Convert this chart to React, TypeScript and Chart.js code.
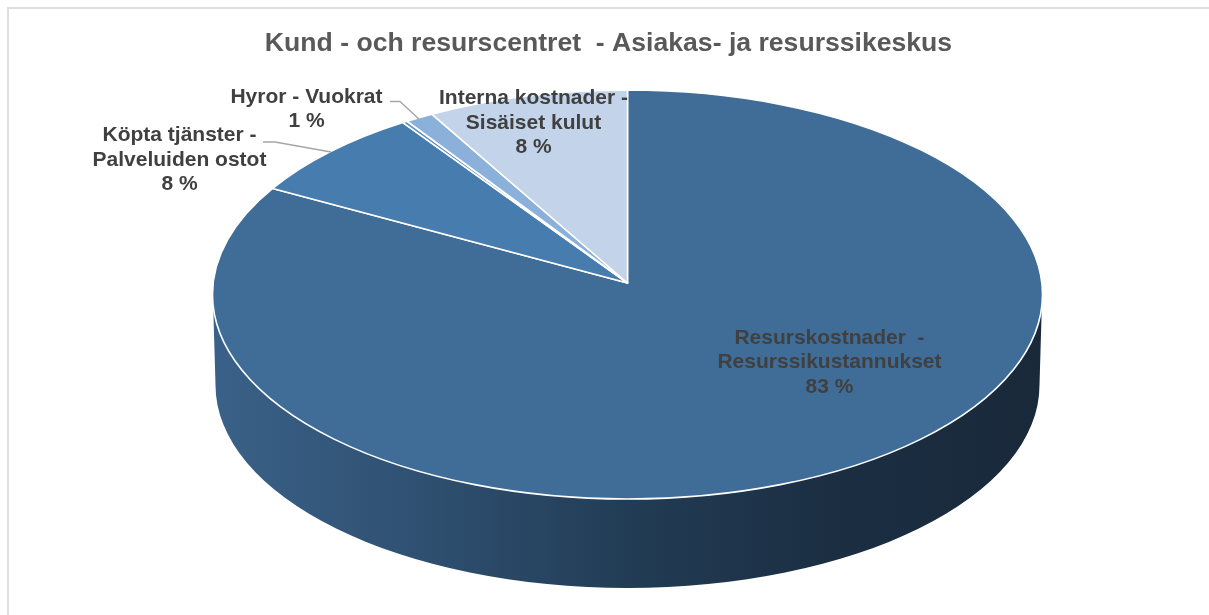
import { useEffect, useRef } from "react";
import { Chart, registerables } from "chart.js";

Chart.register(...registerables);

const titleText = "Kund - och resurscentret  - Asiakas- ja resurssikeskus";
const categories = [
  "Resurskostnader  - Resurssikustannukset",
  "Köpta tjänster - Palveluiden ostot",
  "Övrigt",
  "Hyror - Vuokrat",
  "Interna kostnader - Sisäiset kulut",
];
const shares = [82.9, 7.5, 0.2, 1.15, 8.25];
const sliceColors = ["#3f6d97", "#477cae", "#5f8fc4", "#8bb0da", "#c3d3e9"];
const labelLines = [
  ["Resurskostnader  -", "Resurssikustannukset", "83 %"],
  ["Köpta tjänster -", "Palveluiden ostot", "8 %"],
  [],
  ["Hyror - Vuokrat", "1 %"],
  ["Interna kostnader -", "Sisäiset kulut", "8 %"],
];

// Projection of the flat pie into the tilted view
const APEX_X = 627.5;
const APEX_Y = 283;
const PROJ_A = 414.4;
const PROJ_B = 203.9;
const PROJ_K = -0.0562;
const TOP_CY = 294.5;
const TOP_RX = 415;
const TOP_RY = 204.5;
const BOT_CY = 385;
const BOT_RX = 412;
const BOT_RY = 203;

// Chart.js angle (0 = east, clockwise positive) -> ellipse parameter on the top face
function rimParam(angle: number) {
  const x = Math.cos(angle);
  const v = Math.sin(angle);
  const w = 1 + PROJ_K * v;
  const px = APEX_X + (PROJ_A * x) / w;
  const py = APEX_Y + (PROJ_B * v) / w;
  return Math.atan2((py - TOP_CY) / TOP_RY, (px - APEX_X) / TOP_RX);
}

const labelPlacement = [
  { x: 829.5, y: 338, color: "#404040" },
  { x: 179.5, y: 135.5, color: "#404040" },
  null,
  { x: 306.5, y: 97, color: "#404040" },
  { x: 533.5, y: 98.5, color: "#404040" },
];
const LINE_H = 24.5;

const tiltedPie = {
  id: "tiltedPie",
  beforeDatasetsDraw(chart: any) {
    const { ctx } = chart;
    const arcs = chart.getDatasetMeta(0).data;

    ctx.save();
    // outer frame
    ctx.strokeStyle = "#dedede";
    ctx.lineWidth = 2;
    ctx.beginPath();
    ctx.moveTo(8, 615);
    ctx.lineTo(8, 8);
    ctx.lineTo(1209, 8);
    ctx.stroke();

    // side wall
    const grad = ctx.createLinearGradient(213, 0, 1042, 0);
    grad.addColorStop(0, "#3a6188");
    grad.addColorStop(0.25, "#2f5071");
    grad.addColorStop(0.5, "#223c55");
    grad.addColorStop(0.75, "#1b2e42");
    grad.addColorStop(1, "#19293a");
    ctx.fillStyle = grad;
    ctx.beginPath();
    ctx.moveTo(213, 300);
    ctx.lineTo(215.5, BOT_CY);
    ctx.ellipse(APEX_X, BOT_CY, BOT_RX, BOT_RY, 0, Math.PI, 0, true);
    ctx.lineTo(1042, 300);
    ctx.closePath();
    ctx.fill();

    // top face slices
    arcs.forEach((arc: any, i: number) => {
      const a0 = rimParam(arc.startAngle);
      const a1 = rimParam(arc.endAngle);
      ctx.beginPath();
      ctx.moveTo(APEX_X, APEX_Y);
      ctx.ellipse(APEX_X, TOP_CY, TOP_RX, TOP_RY, 0, a0, a1, false);
      ctx.closePath();
      ctx.fillStyle = sliceColors[i];
      ctx.fill();
      ctx.strokeStyle = "#ffffff";
      ctx.lineWidth = 1.6;
      ctx.lineJoin = "round";
      ctx.stroke();
    });

    // leader lines
    ctx.strokeStyle = "#a6a6a6";
    ctx.lineWidth = 1.4;
    ctx.beginPath();
    ctx.moveTo(263, 142);
    ctx.lineTo(275, 142);
    ctx.lineTo(331, 152);
    ctx.moveTo(390, 101.5);
    ctx.lineTo(400, 101.5);
    ctx.lineTo(420, 120);
    ctx.stroke();
    ctx.restore();
    return false;
  },
  afterDraw(chart: any) {
    const { ctx } = chart;
    ctx.save();
    ctx.font = 'bold 21px "Liberation Sans", Arial, sans-serif';
    ctx.textAlign = "center";
    ctx.textBaseline = "middle";
    labelLines.forEach((lines, i) => {
      const place = labelPlacement[i];
      if (!place) return;
      ctx.fillStyle = place.color;
      lines.forEach((line, j) => ctx.fillText(line, place.x, place.y + j * LINE_H));
    });
    ctx.restore();
  },
};

export default function App() {
  const ref = useRef<HTMLCanvasElement>(null);
  useEffect(() => {
    document.body.style.margin = "0";
    const chart = new Chart(ref.current!, {
      type: "pie",
      data: {
        labels: categories,
        datasets: [{ data: shares, backgroundColor: sliceColors, borderColor: "#ffffff" }],
      },
      options: {
        responsive: false,
        animation: false,
        layout: { padding: { left: 8 } },
        plugins: {
          legend: { display: false },
          tooltip: { enabled: false },
          title: {
            display: true,
            text: titleText,
            color: "#595959",
            font: { family: '"Liberation Sans", Arial, sans-serif', size: 26.6, weight: "bold" },
            padding: { top: 28, bottom: 10 },
          },
        },
      },
      plugins: [tiltedPie],
    } as any);
    return () => chart.destroy();
  }, []);
  return (
    <div style={{ width: 1209, height: 615 }}>
      <canvas ref={ref} width={1209} height={615} style={{ display: "block" }} />
    </div>
  );
}
